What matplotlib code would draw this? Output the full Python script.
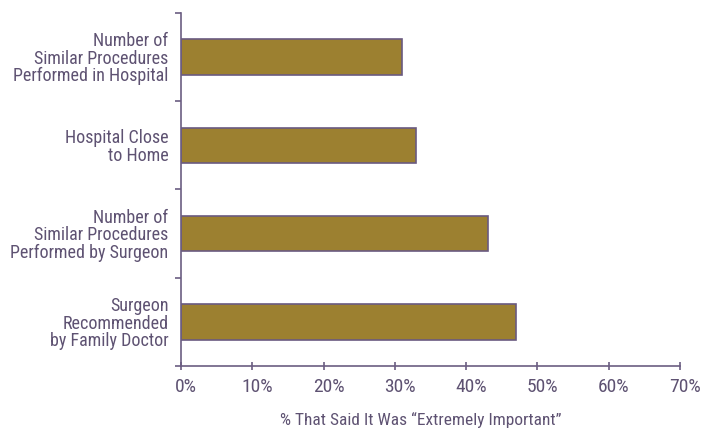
import matplotlib
matplotlib.use("Agg")
import matplotlib.pyplot as plt
from matplotlib.transforms import ScaledTranslation

categories = [
    "Surgeon\nRecommended\nby Family Doctor",
    "Number of\nSimilar Procedures\nPerformed by Surgeon",
    "Hospital Close\nto Home",
    "Number of\nSimilar Procedures\nPerformed in Hospital",
]
values = [47, 43, 33, 31]
xticks = [0, 10, 20, 30, 40, 50, 60, 70]
xlabel = "% That Said It Was \u201cExtremely Important\u201d"

plt.rcParams["font.family"] = ["Roboto Condensed", "DejaVu Sans"]

text_color = "#5e5272"
axis_color = "#6b5d82"
bar_color = "#9c8030"
edge_color = "#6a5a80"

W, H = 703, 433
fig = plt.figure(figsize=(W / 100, H / 100), dpi=100)
ax = fig.add_axes([181 / W, 1 - 366 / H, (680 - 181) / W, (366 - 13) / H])

ypos = list(range(len(categories)))
ax.barh(ypos, values, height=0.4, color=bar_color, edgecolor=edge_color, linewidth=1.2)

ax.set_xlim(0, 70)
ax.set_ylim(-0.5, len(categories) - 0.5)
ax.set_xticks(xticks)
ax.set_xticklabels([f"{t}%" for t in xticks], fontsize=14, color=text_color)
ax.set_yticks(ypos)
ax.set_yticklabels(categories, fontsize=13, color=text_color, linespacing=0.95)
ax.set_yticks([i - 0.5 for i in range(len(categories) + 1)], minor=True)

ax.tick_params(axis="y", which="major", length=0, pad=9)
ax.tick_params(axis="y", which="minor", length=4, direction="out", color=axis_color, width=1.2)
ax.tick_params(axis="x", which="major", length=6, direction="inout", color=axis_color, width=1.2, pad=6)

# nudge the percent labels slightly to the right of their ticks
shift = ScaledTranslation(5 / 100, 0, fig.dpi_scale_trans)
for lbl in ax.get_xticklabels():
    lbl.set_transform(lbl.get_transform() + shift)

for side in ("top", "right"):
    ax.spines[side].set_visible(False)
for side in ("left", "bottom"):
    ax.spines[side].set_color(axis_color)
    ax.spines[side].set_linewidth(1.2)

fig.text(421 / W, 1 - 420 / H, xlabel, fontsize=12.5, color=text_color, ha="center", va="center")

fig.savefig("out.png", dpi=100, facecolor="white")
